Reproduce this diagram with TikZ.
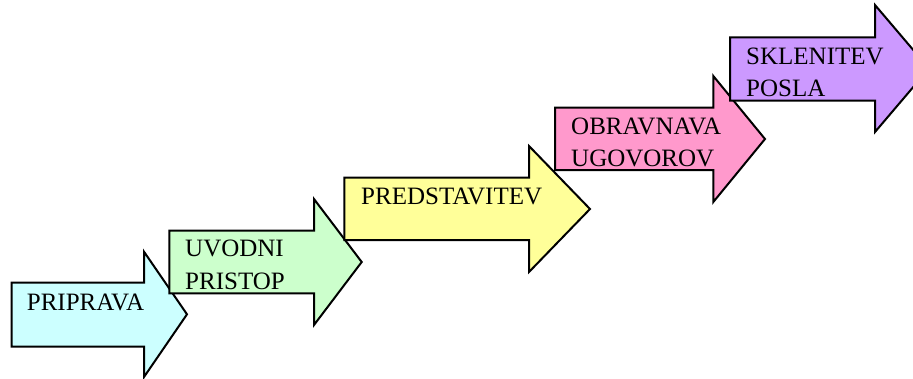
\documentclass[tikz,border=0pt]{standalone}
\usepackage{fontspec}
\setmainfont{Liberation Serif}
\definecolor{cA}{HTML}{CCFFFF}
\definecolor{cB}{HTML}{CCFFCC}
\definecolor{cC}{HTML}{FFFF99}
\definecolor{cD}{HTML}{FF99CC}
\definecolor{cE}{HTML}{CC99FF}
\tikzset{
  arrowshape/.style={draw=black,line width=2pt,line join=miter},
  lbl/.style={anchor=base west,inner sep=0pt,font=\fontsize{25}{33}\selectfont,align=left}
}
\newcommand\bigArrow[9]{%
  \path[arrowshape,fill=#9] (#1,#2) -- (#4,#2) -- (#4,#5) -- (#6,#7) -- (#4,#8) -- (#4,#3) -- (#1,#3) -- cycle;}
\begin{document}
\begin{tikzpicture}[x=1pt,y=-1pt]
\useasboundingbox (0,0) rectangle (913,378);
\clip (0,0) rectangle (913,378);
\bigArrow{11.5}{282.7}{346.7}{144}{251.7}{187}{314.3}{377}{cA}
\node[lbl] (t1) at (26.7,310) {PRIPRAVA};
\bigArrow{169.3}{230.7}{293.3}{314}{199}{361.7}{262}{325}{cB}
\node[lbl] (t2) at (185,256) {UVODNI};
\node[lbl] (t2b) at (185,289.3) {PRISTOP};
\bigArrow{344.3}{177.7}{240}{529}{146}{590}{209}{272}{cC}
\node[lbl] (t3) at (361,204) {PREDSTAVITEV};
\bigArrow{555}{107.7}{170}{713.3}{76}{765}{139}{202}{cD}
\node[lbl] (t4) at (571,134) {OBRAVNAVA};
\node[lbl] (t4b) at (571,166.7) {UGOVOROV};
\bigArrow{730}{37.3}{100.7}{875}{5}{929}{68.5}{132}{cE}
\node[lbl] (t5) at (746,64) {SKLENITEV};
\node[lbl] (t5b) at (746,96.7) {POSLA};
\end{tikzpicture}
\end{document}
